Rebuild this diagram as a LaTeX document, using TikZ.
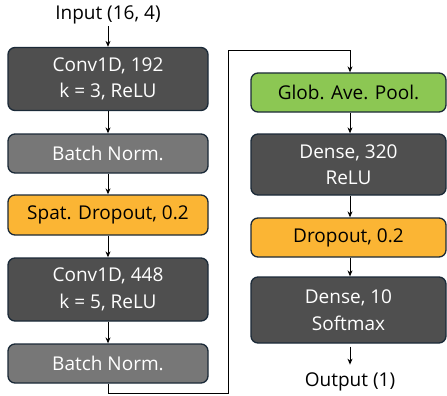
\documentclass[tikz,border=0pt]{standalone}
\usepackage{fontspec}
\setmainfont{Open Sans}
\usetikzlibrary{arrows.meta}
\definecolor{edge}{HTML}{1B2A38}
\definecolor{darkbox}{HTML}{4F4F4F}
\definecolor{graybox}{HTML}{777777}
\definecolor{orangebox}{HTML}{FBB534}
\definecolor{greenbox}{HTML}{8CC753}
\begin{document}
\begin{tikzpicture}[x=1pt,y=-1pt,
  blk/.style={draw=edge,line width=1.3pt,rounded corners=7pt,align=center,
    font=\fontsize{19}{26.5}\selectfont,inner sep=0pt},
  leftblk/.style={blk,minimum width=200pt},
  rightblk/.style={blk,minimum width=195pt},
  darkfill/.style={fill=darkbox,text=white},
  grayfill/.style={fill=graybox,text=white},
  orangefill/.style={fill=orangebox,text=black},
  greenfill/.style={fill=greenbox,text=black},
  lbl/.style={font=\fontsize{19}{26}\selectfont,inner sep=0pt},
  arr/.style={-{Stealth[length=6pt,width=5pt]},line width=1pt,black}]
\useasboundingbox (0,0) rectangle (447,396);
\node[lbl] (in) at (108,15) {Input (16, 4)};
\node[leftblk,darkfill,minimum height=63pt] (c1) at (108,79) {Conv1D, 192\\k = 3, ReLU};
\node[leftblk,grayfill,minimum height=39pt] (bn1) at (108,153.5) {Batch Norm.};
\node[leftblk,orangefill,minimum height=40pt] (sd) at (108,215) {Spat. Dropout, 0.2};
\node[leftblk,darkfill,minimum height=63pt] (c2) at (108,289.5) {Conv1D, 448\\k = 5, ReLU};
\node[leftblk,grayfill,minimum height=39pt] (bn2) at (108,363.5) {Batch Norm.};
\node[rightblk,greenfill,minimum height=39pt] (gap) at (348.5,92.5) {Glob. Ave. Pool.};
\node[rightblk,darkfill,minimum height=61pt] (d1) at (348.5,164.5) {Dense, 320\\ReLU};
\node[rightblk,orangefill,minimum height=39pt] (do) at (348.5,237.5) {Dropout, 0.2};
\node[rightblk,darkfill,minimum height=66pt] (d2) at (348.5,310) {Dense, 10\\Softmax};
\node[lbl] (out) at (350,382) {Output (1)};
\coordinate (b1) at (108,393);
\coordinate (b2) at (228,393);
\coordinate (b3) at (228,51);
\coordinate (b4) at (350,51);
\draw[arr] (in.south -| c1.north) ++(0,2) -- (c1.north);
\draw[arr] (c1) -- (bn1);
\draw[arr] (bn1) -- (sd);
\draw[arr] (sd) -- (c2);
\draw[arr] (c2) -- (bn2);
\draw[arr] (bn2.south) -- (b1) -- (b2) -- (b3) -- (b4) -- (b4 |- gap.north);
\draw[arr] (gap.south -| b4) -- (b4 |- d1.north);
\draw[arr] (d1.south -| b4) -- (b4 |- do.north);
\draw[arr] (do.south -| b4) -- (b4 |- d2.north);
\draw[arr] (d2.south -| b4) ++(0,3) -- ++(0,18);
\end{tikzpicture}
\end{document}
